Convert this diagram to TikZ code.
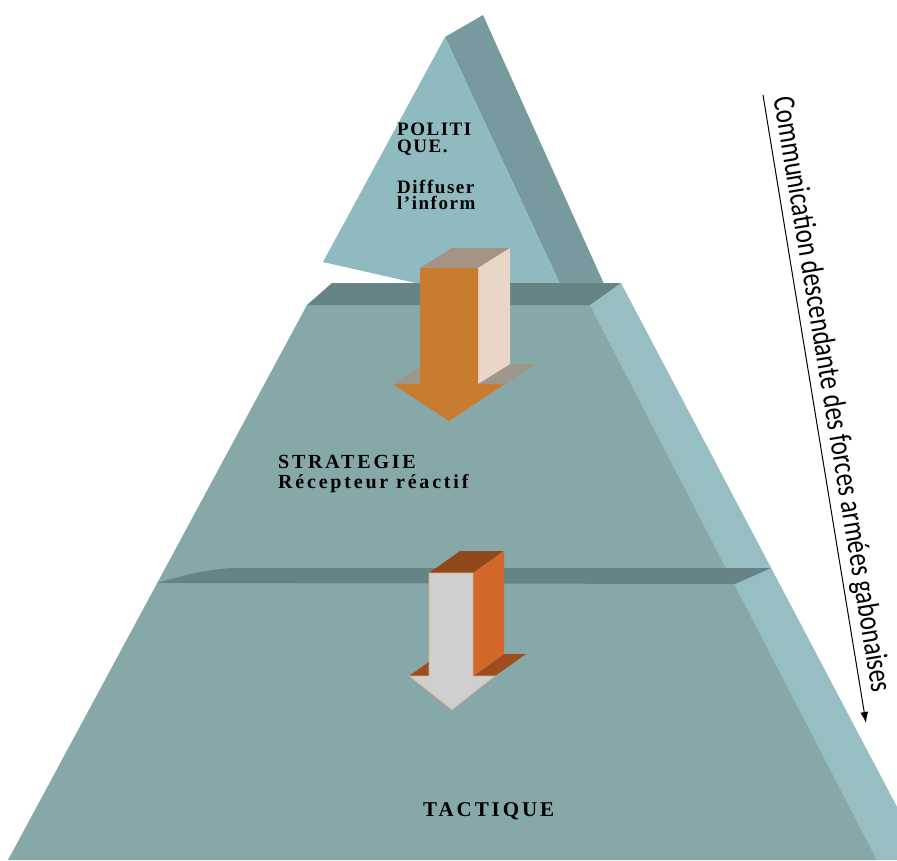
\documentclass[tikz,border=0pt]{standalone}
\usepackage{fontspec}
\usepackage{graphicx}
\setmainfont{Liberation Serif}
\newfontfamily\lvlfont[LetterSpace=14]{Liberation Serif}
\newfontfamily\polfont[LetterSpace=8]{Liberation Serif}
\newfontfamily\sidefont{Carlito}
\usetikzlibrary{arrows.meta}
\definecolor{frontc}{HTML}{86A8A9}
\definecolor{sidec}{HTML}{96BEC3}
\definecolor{bevelc}{HTML}{668386}
\definecolor{trifront}{HTML}{8FBAC0}
\definecolor{triside}{HTML}{769A9D}
\definecolor{orfront}{HTML}{C97B2F}
\definecolor{orside}{HTML}{EAD6C6}
\definecolor{ortop}{HTML}{A59485}
\definecolor{orwing}{HTML}{9E978E}
\definecolor{gyfront}{HTML}{CFCFCF}
\definecolor{gyside}{HTML}{D2672A}
\definecolor{gytop}{HTML}{8F4A1C}
\definecolor{gywing}{HTML}{9E4E1E}
\definecolor{gyedge}{HTML}{E2A878}
\begin{document}
\begin{tikzpicture}[x=1pt,y=-1pt,
  lbl/.style={anchor=base west,inner sep=0pt,font=\lvlfont\bfseries\fontsize{20}{20}\selectfont},
  pol/.style={anchor=base west,inner sep=0pt,font=\polfont\bfseries\fontsize{19}{19}\selectfont}]
\useasboundingbox (0,0) rectangle (897,860);
\clip (0,0) rectangle (897,860);
% ---------- top triangle ----------
\fill[triside] (445,37) -- (483,15) -- (604,284) -- (560,284) -- cycle;
\fill[trifront] (445,37) -- (560,284) -- (420,284) -- (323,262) -- cycle;
% ---------- pyramid body ----------
\fill[sidec] (590,305) -- (621,283) -- (925,860) -- (877,860) -- cycle;
\fill[frontc] (307,305) -- (590,305) -- (877,860) -- (8,860) -- cycle;
% top bevel
\fill[bevelc] (307,305) -- (332,283) -- (621,283) -- (590,305) -- cycle;
% lower bevel
\fill[bevelc] (157,583) .. controls (185,575) and (210,568) .. (240,568) -- (771,568) -- (735,584) -- cycle;
% ---------- upper 3D arrow (orange) ----------
\fill[ortop] (420,268) -- (478,268) -- (510,248) -- (452,248) -- cycle;
\fill[orwing] (393,384) -- (420,384) -- (452,364) -- (425,364) -- cycle;
\fill[orwing] (478,384) -- (505,384) -- (537,364) -- (510,364) -- cycle;
\fill[orside] (478,268) -- (510,248) -- (510,364) -- (478,384) -- cycle;
\fill[orfront] (420,268) -- (478,268) -- (478,384) -- (505,384) -- (449,421) -- (393,384) -- (420,384) -- cycle;
% ---------- lower 3D arrow (grey) ----------
\fill[gytop] (429,573) -- (473,573) -- (504,551) -- (460,551) -- cycle;
\fill[gywing] (409,676) -- (429,676) -- (460,654) -- (440,654) -- cycle;
\fill[gywing] (473,676) -- (495,676) -- (526,654) -- (504,654) -- cycle;
\fill[gyside] (473,573) -- (504,551) -- (504,654) -- (473,676) -- cycle;
\filldraw[fill=gyfront, draw=gyedge, line width=0.6pt] (429,573) -- (473,573) -- (473,676) -- (495,676) -- (452,710) -- (409,676) -- (429,676) -- cycle;
% ---------- labels ----------
\node[pol] (pol1) at (397,135) {POLITI};
\node[pol] (pol2) at (397,152) {QUE.};
\node[pol] (pol3) at (397,193) {Diffuser};
\node[pol] (pol4) at (397,209) {l’inform};
\node[lbl] (str1) at (278,468) {STRATEGIE};
\node[lbl] (str2) at (278,488) {Récepteur réactif};
\node[lbl, font=\lvlfont\bfseries\fontsize{21}{21}\selectfont] (tac) at (423,816) {TACTIQUE};
% ---------- side arrow ----------
\coordinate (cs) at (763,95);
\coordinate (ce) at (866,723);
\draw[line width=1pt, -{Latex[length=11pt,width=8pt]}] (cs) -- (ce);
\node[rotate=-80.6, anchor=base, inner sep=0pt] (side) at (822.7,396)
  {\resizebox{603pt}{!}{\scalebox{0.8}[1]{\sidefont\fontsize{30}{30}\selectfont Communication descendante des forces armées gabonaises}}};
\end{tikzpicture}
\end{document}
